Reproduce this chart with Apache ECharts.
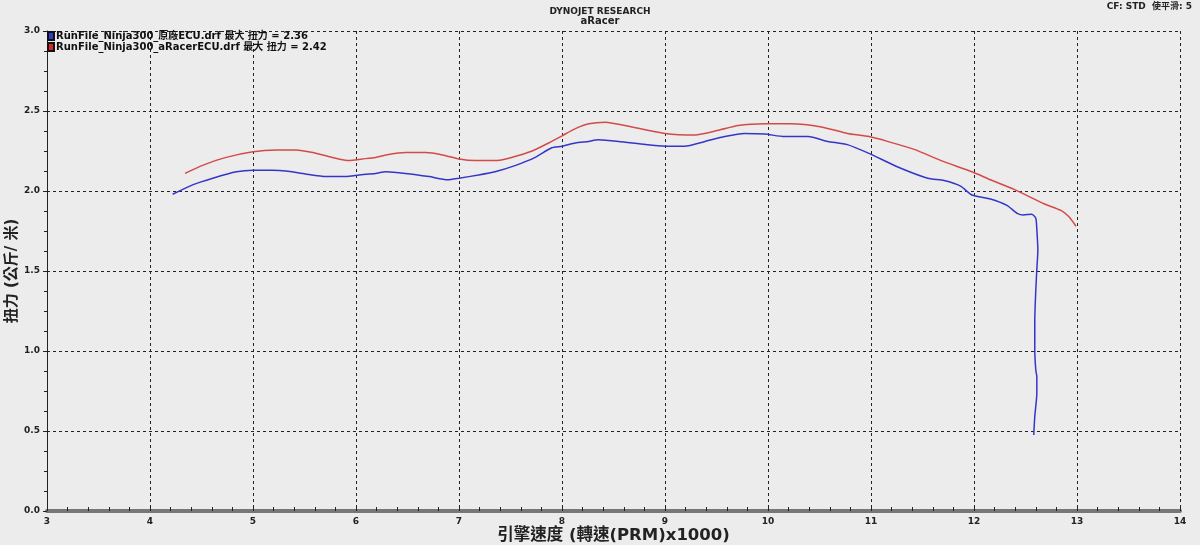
<!DOCTYPE html>
<html>
<head>
<meta charset="utf-8">
<script src="https://cdn.jsdelivr.net/npm/echarts@6/dist/echarts.min.js"></script>
<style>
html,body{margin:0;padding:0;background:#ececec;}
#c{width:1200px;height:545px;}
</style>
</head>
<body>
<div id="c"></div>
<script>
var seriesNames = ['RunFile_Ninja300_原廠ECU.drf', 'RunFile_Ninja300_aRacerECU.drf'];
var maxTorque = [2.36, 2.42];
var xTicks = [3, 14, 1];
var yTicks = [0, 3, 0.5];

var stockRpm = [4.22,4.42,4.61,4.84,5.00,5.19,5.32,5.51,5.71,5.90,6.03,6.19,6.29,6.48,6.71,6.89,7.00,7.19,7.35,7.55,7.74,7.90,8.00,8.13,8.26,8.35,8.55,8.81,9.00,9.19,9.39,9.58,9.77,9.97,10.16,10.39,10.58,10.77,10.98,11.26,11.55,11.71,11.87,11.98,12.16,12.32,12.42,12.48,12.56,12.60,12.61,12.62,12.61,12.60,12.59,12.59,12.60,12.61,12.61,12.59,12.58];
var stockTq  = [1.98,2.04,2.08,2.12,2.13,2.13,2.125,2.106,2.09,2.09,2.10,2.11,2.12,2.11,2.09,2.07,2.08,2.10,2.12,2.16,2.21,2.27,2.28,2.30,2.31,2.32,2.31,2.29,2.28,2.28,2.31,2.34,2.36,2.356,2.34,2.34,2.31,2.29,2.235,2.15,2.08,2.065,2.03,1.975,1.95,1.91,1.86,1.85,1.855,1.83,1.76,1.63,1.51,1.38,1.19,1.006,0.88,0.84,0.735,0.59,0.475];

var racerRpm = [4.34,4.51,4.74,5.00,5.22,5.42,5.58,5.77,5.93,6.06,6.19,6.29,6.48,6.68,6.84,7.00,7.16,7.35,7.51,7.71,7.87,8.00,8.13,8.26,8.42,8.68,9.00,9.29,9.52,9.71,9.97,10.22,10.52,10.77,10.98,11.16,11.42,11.68,11.98,12.16,12.39,12.68,12.84,12.92,12.99];
var racerTq  = [2.11,2.16,2.21,2.245,2.256,2.256,2.24,2.21,2.19,2.20,2.21,2.225,2.24,2.24,2.225,2.20,2.19,2.19,2.21,2.25,2.30,2.345,2.39,2.42,2.43,2.40,2.36,2.35,2.38,2.41,2.42,2.42,2.40,2.36,2.34,2.31,2.26,2.19,2.12,2.07,2.01,1.92,1.88,1.84,1.78];

function pairs(xs, ys){ return xs.map(function(x,i){ return [x, ys[i]]; }); }

var FONT = '"DejaVu Sans", "Noto Sans CJK TC", sans-serif';
var chart = echarts.init(document.getElementById('c'));
chart.setOption({
  backgroundColor: '#ececec',
  animation: false,
  title: {
    text: 'DYNOJET RESEARCH',
    subtext: 'aRacer',
    left: 'center',
    top: 2,
    itemGap: 0,
    textStyle: {fontFamily: FONT, fontSize: 9, fontWeight: 'bold', color: '#222'},
    subtextStyle: {fontFamily: FONT, fontSize: 10, fontWeight: 'bold', color: '#222'}
  },
  graphic: [{
    type: 'text', right: 8, top: 2,
    style: {text: 'CF: STD  使平滑: 5', font: 'bold 9px ' + FONT, fill: '#222'}
  }],
  legend: {
    orient: 'vertical', left: 47, top: 31, itemGap: 1,
    itemWidth: 6, itemHeight: 8, icon: 'rect',
    padding: 0,
    textStyle: {fontFamily: FONT, fontSize: 10, fontWeight: 'bold', color: '#111', padding: [0,0,0,-3]},
    formatter: function(name){ var i = seriesNames.indexOf(name); return name + ' 最大 扭力 = ' + maxTorque[i].toFixed(2); },
    data: seriesNames
  },
  grid: {left: 47, right: 20, top: 31, bottom: 34, containLabel: false, outerBoundsMode: 'none'},
  xAxis: {
    type: 'value', min: xTicks[0], max: xTicks[1], interval: xTicks[2],
    name: '引擎速度 (轉速(PRM)x1000)', nameLocation: 'middle', nameGap: 16,
    nameMoveOverlap: false,
    nameTextStyle: {fontFamily: FONT, fontSize: 16.5, color: '#222', fontWeight: 'bold'},
    axisLine: {show: true, lineStyle: {color: '#777', width: 4}},
    axisTick: {show: true, inside: true, length: 5, lineStyle: {color: '#222'}},
    minorTick: {show: true, splitNumber: 5, length: 4, lineStyle: {color: '#222'}},
    axisLabel: {fontFamily: FONT, fontSize: 9, fontWeight: 'bold', color: '#222', margin: 6},
    splitLine: {show: true, lineStyle: {color: '#222', type: [3,3], width: 1}}
  },
  yAxis: {
    type: 'value', min: yTicks[0], max: yTicks[1], interval: yTicks[2],
    name: '扭力 (公斤/ 米)', nameLocation: 'middle', nameGap: 27, nameRotate: 90,
    nameMoveOverlap: false,
    nameTextStyle: {fontFamily: FONT, fontSize: 15, color: '#222', fontWeight: 'bold'},
    axisLine: {show: true, lineStyle: {color: '#222', width: 1}},
    axisTick: {show: true, length: 4, lineStyle: {color: '#222'}},
    minorTick: {show: true, splitNumber: 4, length: 3, lineStyle: {color: '#222'}},
    axisLabel: {fontFamily: FONT, fontSize: 9, fontWeight: 'bold', color: '#222', margin: 7,
      formatter: function(v){ return v.toFixed(1); }},
    splitLine: {show: true, lineStyle: {color: '#222', type: [3,3], width: 1}}
  },
  series: [
    {name: seriesNames[0], type: 'line', data: pairs(stockRpm, stockTq), showSymbol: false,
     smooth: 0.2, lineStyle: {color: '#3436c8', width: 1.5}, itemStyle: {color: '#2f3ad0', borderColor: '#111', borderWidth: 1}},
    {name: seriesNames[1], type: 'line', data: pairs(racerRpm, racerTq), showSymbol: false,
     smooth: 0.2, lineStyle: {color: '#d44a4a', width: 1.5}, itemStyle: {color: '#d42828', borderColor: '#111', borderWidth: 1}}
  ]
});
</script>
</body>
</html>
